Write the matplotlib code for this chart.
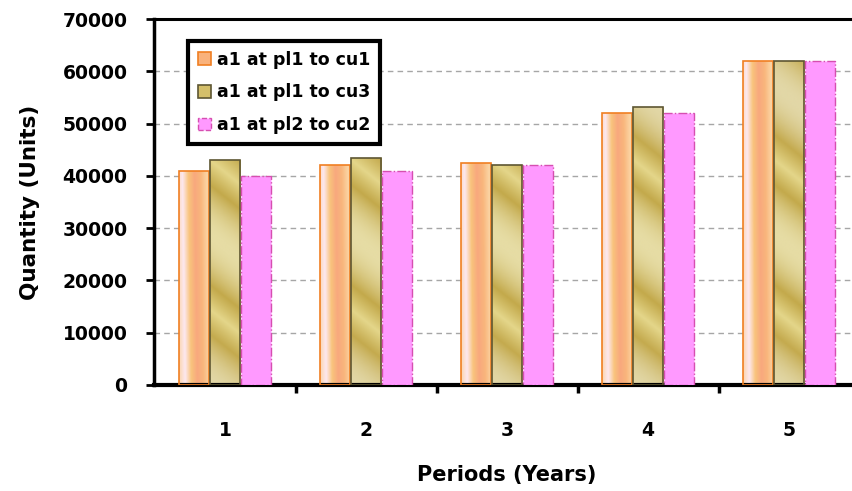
import numpy as np
import matplotlib as mpl
import matplotlib.pyplot as plt
from matplotlib.patches import Patch
from matplotlib.colors import LinearSegmentedColormap

mpl.use('Agg')

periods = ['1', '2', '3', '4', '5']
series_names = ['a1 at pl1 to cu1', 'a1 at pl1 to cu3', 'a1 at pl2 to cu2']
pl1_cu1 = [41000, 42000, 42500, 52000, 62000]
pl1_cu3 = [43000, 43500, 42000, 53200, 62000]
pl2_cu2 = [40000, 41000, 42000, 52000, 62000]

plt.rcParams['font.family'] = ['DejaVu Sans']
plt.rcParams['font.weight'] = 'bold'

# gradient colour maps (roughly the office "preset" fills)
orange_cmap = LinearSegmentedColormap.from_list(
    'orange', ['#fbd6b0', '#fde8f0', '#f9c47c', '#f8a87e', '#f9b67c', '#fbd3a2'])
gold_cmap = LinearSegmentedColormap.from_list(
    'gold', ['#e6dca4', '#c3a94b', '#e4d68a', '#c4aa4e', '#e2d7a6'])


def fill_gradient(ax, bar, cmap, kind):
    x0, y0 = bar.get_x(), bar.get_y()
    w, h = bar.get_width(), bar.get_height()
    nx, ny = 40, 200
    px_w = w * 141.0
    px_h = h * 366.0 / 70000
    xx, yy = np.meshgrid(np.linspace(0, 1, nx), np.linspace(0, 1, ny))
    if kind == 'orange':
        t = np.clip(xx + 0.1 * (1 - yy), 0, 1)
    else:
        # repeating diagonal bands
        ypx = (1 - yy) * px_h
        xpx = xx * px_w
        t = 0.5 + 0.5 * np.cos((ypx + 0.8 * xpx) / 150.0 * np.pi)
    im = ax.imshow(t, cmap=cmap, extent=(x0, x0 + w, y0, y0 + h),
                   origin='upper', aspect='auto', zorder=2, vmin=0, vmax=1,
                   interpolation='bilinear')
    im.set_clip_path(bar)


fig = plt.figure(figsize=(8.53, 4.91), dpi=100)
ax = fig.add_axes([154.5 / 853, 106 / 491, 705 / 853, 366 / 491])

x = np.arange(1, len(periods) + 1)
bw = 0.215
off = 0.22

b1 = ax.bar(x - off, pl1_cu1, bw, facecolor='none', edgecolor='#f07f22',
            linewidth=1.2, zorder=3)
b2 = ax.bar(x, pl1_cu3, bw, facecolor='none', edgecolor='#5e5632',
            linewidth=1.2, zorder=3)
b3 = ax.bar(x + off, pl2_cu2, bw, facecolor='#ff99ff', edgecolor='#d64fb0',
            linewidth=1.0, linestyle='-.', zorder=3)
for bar in b1:
    fill_gradient(ax, bar, orange_cmap, 'orange')
for bar in b2:
    fill_gradient(ax, bar, gold_cmap, 'gold')

ax.set_xlim(0.5, 5.5)
ax.set_ylim(0, 70000)
ax.set_yticks(np.arange(0, 70001, 10000))
ax.yaxis.grid(True, linestyle=(0, (4, 3)), color='#a6a6a6', linewidth=1.0, zorder=0)
ax.set_axisbelow(True)

ax.set_xticks(x)
ax.set_xticklabels(periods)
ax.set_xticks(np.arange(1.5, 5.5, 1), minor=True)
ax.tick_params(axis='x', which='major', length=0, pad=26, labelsize=13.5)
ax.tick_params(axis='x', which='minor', length=6, width=2.5, direction='out')
ax.tick_params(axis='y', length=6, width=2, pad=13.5, labelsize=13.5)

ax.spines['right'].set_visible(False)
ax.spines['top'].set_linewidth(2.2)
ax.spines['left'].set_linewidth(2.5)
ax.spines['bottom'].set_linewidth(3)

ax.set_ylabel('Quantity (Units)', fontsize=15.5, fontweight='bold', labelpad=16)
ax.set_xlabel('Periods (Years)', fontsize=15, fontweight='bold', labelpad=18)

handles = [
    Patch(facecolor='#f9b27c', edgecolor='#f07f22', linewidth=1.2),
    Patch(facecolor='#d4bf6a', edgecolor='#5e5632', linewidth=1.2),
    Patch(facecolor='#ff99ff', edgecolor='#d64fb0', linewidth=1.0, linestyle='--'),
]
leg = ax.legend(handles, series_names, loc='upper left',
                bbox_to_anchor=(0.0475, 0.94), borderaxespad=0,
                fancybox=False, edgecolor='black', framealpha=1,
                prop={'size': 12.5, 'weight': 'bold'},
                handlelength=0.75, handleheight=0.75, handletextpad=0.35,
                labelspacing=0.85, borderpad=0.55)
leg.get_frame().set_linewidth(3)
leg.set_zorder(5)

fig.savefig('out.png', dpi=100)
